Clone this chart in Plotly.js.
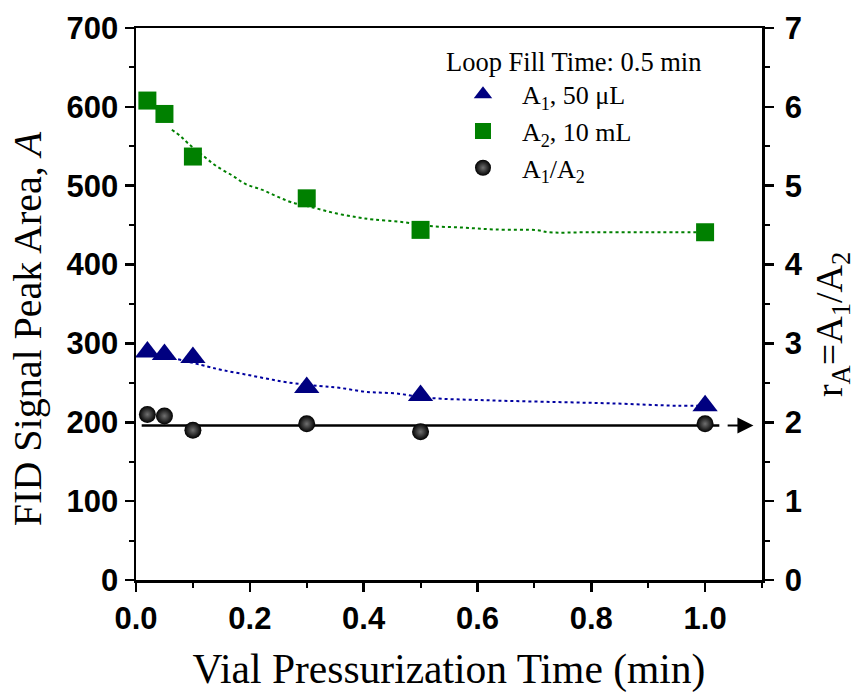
<!DOCTYPE html>
<html>
<head>
<meta charset="utf-8">
<script src="https://cdn.plot.ly/plotly-3.0.1.min.js"></script>
<style>html,body{margin:0;padding:0;background:#fff;}</style>
</head>
<body>
<div id="chart" style="width:859px;height:693px;"></div>
<script>
// Measured data
const timeX = [0.02, 0.05, 0.1, 0.3, 0.5, 1.0];
const a1Area = [289, 286, 282, 244, 234, 221];
const a2Area = [608, 591, 537, 484, 444, 441];
const ratioR = [2.10, 2.08, 1.90, 1.98, 1.88, 1.98];

// Dotted guide curves
const fitA2X = [0.063, 0.078, 0.091, 0.118, 0.141, 0.169, 0.193, 0.221, 0.246, 0.273, 0.313, 0.351, 0.389, 0.418, 0.467, 0.514, 0.572, 0.631, 0.706, 0.724, 0.8, 0.9, 1.0];
const fitA2Y = [571, 563, 554, 538, 525, 513, 502, 495, 487, 479, 472, 465, 460, 457, 454, 449, 447, 444.5, 443.6, 441, 441, 441, 441];
const fitA1X = [0.074, 0.124, 0.153, 0.19, 0.228, 0.266, 0.322, 0.357, 0.403, 0.456, 0.514, 0.613, 0.718, 0.834, 0.951, 1.0];
const fitA1Y = [280, 271, 266, 261, 255.6, 250.6, 246, 243.7, 238.7, 236.6, 231, 228, 226, 224, 221, 221];

// Reference line for ratio
const refLineX = [0.01, 1.025];
const refLineY = [1.96, 1.96];
const arrowFromX = 1.037, arrowToX = 1.085, arrowY = 1.96;

const xTicks = [0, 0.2, 0.4, 0.6, 0.8, 1.0];
const xTickText = ['0.0', '0.2', '0.4', '0.6', '0.8', '1.0'];

const serif = 'Liberation Serif, Times New Roman, serif';
const sans = 'Liberation Sans, Arial, sans-serif';

const traces = [
  {x: fitA2X, y: fitA2Y, mode: 'lines', line: {color: '#008000', width: 2, dash: 'dot', shape: 'spline'}, showlegend: false, hoverinfo: 'skip'},
  {x: fitA1X, y: fitA1Y, mode: 'lines', line: {color: '#0000a0', width: 2, dash: 'dot', shape: 'spline'}, showlegend: false, hoverinfo: 'skip'},
  {x: refLineX, y: refLineY, yaxis: 'y2', mode: 'lines', line: {color: '#000', width: 2.5}, showlegend: false, hoverinfo: 'skip'},
  {x: timeX, y: a1Area, mode: 'markers', name: 'A<sub>1</sub>, 50 μL',
   marker: {symbol: 'triangle-up', size: 22, color: '#000080'}},
  {x: timeX, y: a2Area, mode: 'markers', name: 'A<sub>2</sub>, 10 mL',
   marker: {symbol: 'square', size: 18, color: '#008000'}},
  {x: timeX, y: ratioR, yaxis: 'y2', mode: 'markers', name: 'A<sub>1</sub>/A<sub>2</sub>',
   marker: {symbol: 'circle', size: 17, color: '#000', gradient: {type: 'radial', color: '#707070'}, line: {width: 0}}}
];

const axisCommon = {
  showline: true, linecolor: '#000', linewidth: 2.5,
  ticks: 'outside', ticklen: 9, tickwidth: 2.5, tickcolor: '#000',
  showgrid: false, zeroline: false,
  tickfont: {family: sans, size: 31, color: '#000', weight: 'bold'}
};

const layout = {
  width: 859, height: 693,
  margin: {l: 136, r: 97, t: 28, b: 113},
  paper_bgcolor: '#fff', plot_bgcolor: '#fff',
  showlegend: true,
  legend: {
    x: 0.492, y: 0.985, xanchor: 'left', yanchor: 'top',
    bgcolor: 'rgba(0,0,0,0)',
    font: {family: serif, size: 26, color: '#000'},
    title: {text: 'Loop Fill Time: 0.5 min', side: 'top', font: {family: serif, size: 26.5, color: '#000'}},
    itemwidth: 68, tracegroupgap: 0
  },
  xaxis: Object.assign({}, axisCommon, {
    range: [0, 1.1], tickvals: xTicks, ticktext: xTickText, mirror: true,
    minor: {dtick: 0.1, ticks: 'outside', ticklen: 5, tickwidth: 2, tickcolor: '#000'},
    title: {text: 'Vial Pressurization Time (min)', font: {family: serif, size: 41.5, color: '#000'}, standoff: 25}
  }),
  yaxis: Object.assign({}, axisCommon, {
    range: [0, 700], dtick: 100,
    minor: {dtick: 50, ticks: 'outside', ticklen: 5, tickwidth: 2, tickcolor: '#000'}
  }),
  yaxis2: Object.assign({}, axisCommon, {
    range: [0, 7], dtick: 1, overlaying: 'y', side: 'right', ticklabelstandoff: 5,
    minor: {dtick: 0.5, ticks: 'outside', ticklen: 5, tickwidth: 2, tickcolor: '#000'}
  }),
  annotations: [
    {
      x: arrowToX, y: arrowY, xref: 'x', yref: 'y2',
      ax: arrowFromX, ay: arrowY, axref: 'x', ayref: 'y2',
      text: '', showarrow: true, arrowhead: 2, arrowsize: 1.6, arrowwidth: 2, arrowcolor: '#000'
    },
    {
      text: 'FID Signal Peak Area, <i>A</i>', textangle: -90, showarrow: false,
      xref: 'paper', yref: 'paper', x: -0.172, y: 0.455, xanchor: 'center', yanchor: 'middle',
      font: {family: serif, size: 40, color: '#000'}
    },
    {
      text: 'r<sub>A</sub>=A<sub>1</sub>/A<sub>2</sub>', textangle: -90, showarrow: false,
      xref: 'paper', yref: 'paper', x: 1.112, y: 0.462, xanchor: 'center', yanchor: 'middle',
      font: {family: serif, size: 38, color: '#000'}
    }
  ]
};

Plotly.newPlot('chart', traces, layout, {displayModeBar: false, staticPlot: true});
</script>
</body>
</html>
